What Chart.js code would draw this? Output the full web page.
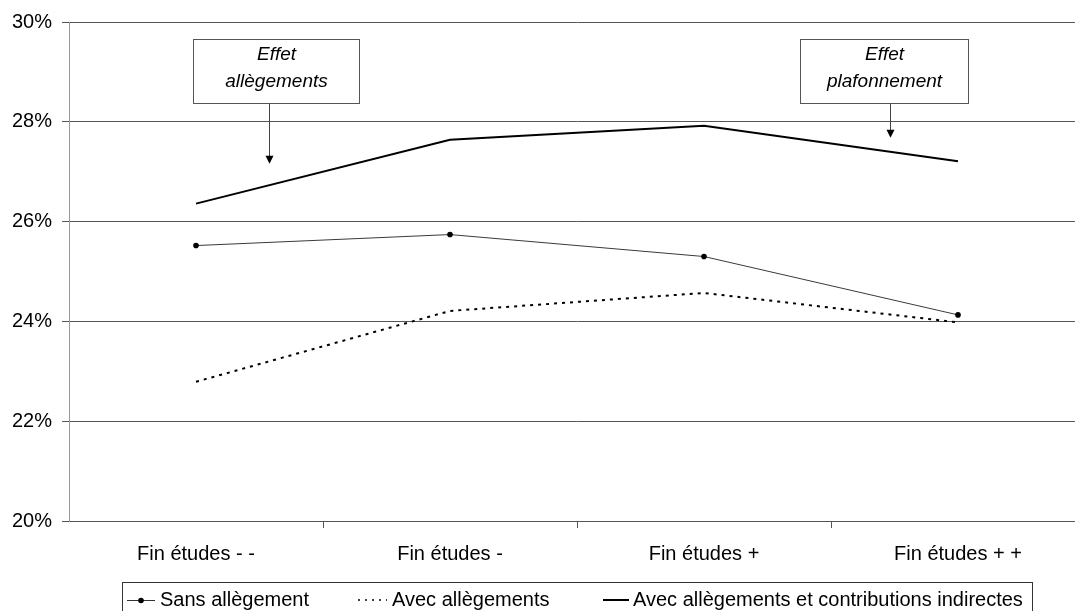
<!DOCTYPE html>
<html lang="fr">
<head>
<meta charset="utf-8">
<title>Taux de prélèvement selon le niveau d'études</title>
<script src="https://cdn.jsdelivr.net/npm/chart.js@4/dist/chart.umd.min.js"></script>
<style>
  html, body { margin: 0; padding: 0; background: #fff; overflow: hidden; }
  #wrap { width: 1090px; height: 611px; }
</style>
</head>
<body>
<div id="wrap"><canvas id="chart" width="1090" height="611"></canvas></div>
<script>
// Categories and series (in %)
const categories = ['Fin études - -', 'Fin études -', 'Fin études +', 'Fin études + +'];
const sansAllegement = [25.52, 25.74, 25.30, 24.13];
const avecAllegements = [22.79, 24.21, 24.57, 23.98];
const avecContributions = [26.36, 27.64, 27.92, 27.21];

// Value axis
const yMin = 20;
const yMax = 30;
const yStep = 2;

// Legend and callout texts
const seriesNames = ['Sans allègement', 'Avec allègements', 'Avec allègements et contributions indirectes'];
const calloutTexts = [['Effet', 'allègements'], ['Effet', 'plafonnement']];

const FONT = 'Arial, "Liberation Sans", sans-serif';

// Callout boxes with arrows, placed in data units (category index, %)
const calloutPlugin = {
  id: 'callouts',
  afterDraw(chart) {
    const { ctx, scales: { x, y } } = chart;
    const boxes = [
      { text: calloutTexts[0], x0: -0.012, x1: 0.642, top: 29.66, bottom: 28.38, ax: 0.287, tip: 27.16 },
      { text: calloutTexts[1], x0: 2.378, x1: 3.039, top: 29.66, bottom: 28.38, ax: 2.732, tip: 27.68 }
    ];
    ctx.save();
    boxes.forEach(b => {
      const l = Math.round(x.getPixelForValue(b.x0)) + 0.5;
      const r = Math.round(x.getPixelForValue(b.x1)) + 0.5;
      const t = Math.round(y.getPixelForValue(b.top)) + 0.5;
      const bt = Math.round(y.getPixelForValue(b.bottom)) + 0.5;
      ctx.fillStyle = '#fff';
      ctx.fillRect(l, t, r - l, bt - t);
      ctx.strokeStyle = '#555';
      ctx.lineWidth = 1;
      ctx.strokeRect(l, t, r - l, bt - t);

      ctx.fillStyle = '#000';
      ctx.font = 'italic 19px ' + FONT;
      ctx.textAlign = 'center';
      ctx.textBaseline = 'middle';
      const cx = (l + r) / 2;
      ctx.fillText(b.text[0], cx, t + 15);
      ctx.fillText(b.text[1], cx, t + 42);

      const axp = Math.round(x.getPixelForValue(b.ax)) + 0.5;
      const tip = y.getPixelForValue(b.tip);
      ctx.strokeStyle = '#444';
      ctx.beginPath();
      ctx.moveTo(axp, bt);
      ctx.lineTo(axp, tip - 7);
      ctx.stroke();
      ctx.fillStyle = '#000';
      ctx.beginPath();
      ctx.moveTo(axp - 4, tip - 8);
      ctx.lineTo(axp + 4, tip - 8);
      ctx.lineTo(axp, tip);
      ctx.closePath();
      ctx.fill();
    });
    ctx.restore();
  }
};

// Boxed legend along the bottom
const boxedLegendPlugin = {
  id: 'boxedLegend',
  afterDraw(chart) {
    const { ctx } = chart;
    const ly = 600;
    ctx.save();
    ctx.strokeStyle = '#333';
    ctx.lineWidth = 1;
    ctx.strokeRect(122.5, 582.5, 910, 40);

    // Sans allègement: thin line with dot
    ctx.strokeStyle = '#333';
    ctx.lineWidth = 1;
    ctx.beginPath();
    ctx.moveTo(127, ly + 0.5); ctx.lineTo(155, ly + 0.5);
    ctx.stroke();
    ctx.fillStyle = '#000';
    ctx.beginPath();
    ctx.arc(141, ly + 0.5, 2.8, 0, Math.PI * 2);
    ctx.fill();

    // Avec allègements: dotted
    ctx.strokeStyle = '#000';
    ctx.lineWidth = 1.5;
    ctx.setLineDash([2, 5]);
    ctx.beginPath();
    ctx.moveTo(358, ly); ctx.lineTo(387, ly);
    ctx.stroke();
    ctx.setLineDash([]);

    // Avec allègements et contributions indirectes: solid
    ctx.lineWidth = 2;
    ctx.beginPath();
    ctx.moveTo(603, ly); ctx.lineTo(629, ly);
    ctx.stroke();

    ctx.fillStyle = '#000';
    ctx.font = '20px ' + FONT;
    ctx.textAlign = 'left';
    ctx.textBaseline = 'middle';
    ctx.fillText(seriesNames[0], 160, ly);
    ctx.fillText(seriesNames[1], 392, ly);
    ctx.fillText(seriesNames[2], 633, ly);
    ctx.restore();
  }
};

new Chart(document.getElementById('chart'), {
  type: 'line',
  data: {
    labels: categories,
    datasets: [
      {
        label: seriesNames[0],
        data: sansAllegement,
        borderColor: '#3a3a3a',
        borderWidth: 1,
        pointRadius: 2.8,
        pointBackgroundColor: '#000',
        pointBorderColor: '#000',
        pointBorderWidth: 0,
        tension: 0
      },
      {
        label: seriesNames[1],
        data: avecAllegements,
        borderColor: '#000',
        borderWidth: 2,
        borderDash: [3, 5],
        pointRadius: 0,
        tension: 0
      },
      {
        label: seriesNames[2],
        data: avecContributions,
        borderColor: '#000',
        borderWidth: 2,
        pointRadius: 0,
        tension: 0
      }
    ]
  },
  options: {
    responsive: false,
    animation: false,
    devicePixelRatio: 1,
    layout: { padding: { left: 0, right: 5, top: 21, bottom: 0 } },
    plugins: {
      legend: { display: false },
      tooltip: { enabled: false }
    },
    scales: {
      x: {
        type: 'category',
        offset: true,
        afterFit(scale) { scale.height = 90; },
        grid: {
          offset: true,
          drawOnChartArea: false,
          drawTicks: true,
          tickLength: 7,
          color: ctx => (ctx.type === 'tick' && ctx.index > 0) ? '#555' : 'rgba(0,0,0,0)'
        },
        border: { display: true, color: '#555', width: 1 },
        ticks: {
          color: '#000',
          font: { family: FONT, size: 20 },
          padding: 14,
          maxRotation: 0
        }
      },
      y: {
        min: yMin,
        max: yMax,
        afterFit(scale) { scale.width = 69; },
        afterBuildTicks(scale) {
          const t = [];
          for (let v = yMin; v <= yMax; v += yStep) t.push({ value: v });
          scale.ticks = t;
        },
        grid: {
          color: '#555',
          lineWidth: 1,
          drawTicks: true,
          tickLength: 7
        },
        border: { display: true, color: '#999', width: 1 },
        ticks: {
          color: '#000',
          font: { family: FONT, size: 20 },
          padding: 10,
          callback: v => v + '%'
        }
      }
    }
  },
  plugins: [calloutPlugin, boxedLegendPlugin]
});
</script>
</body>
</html>
